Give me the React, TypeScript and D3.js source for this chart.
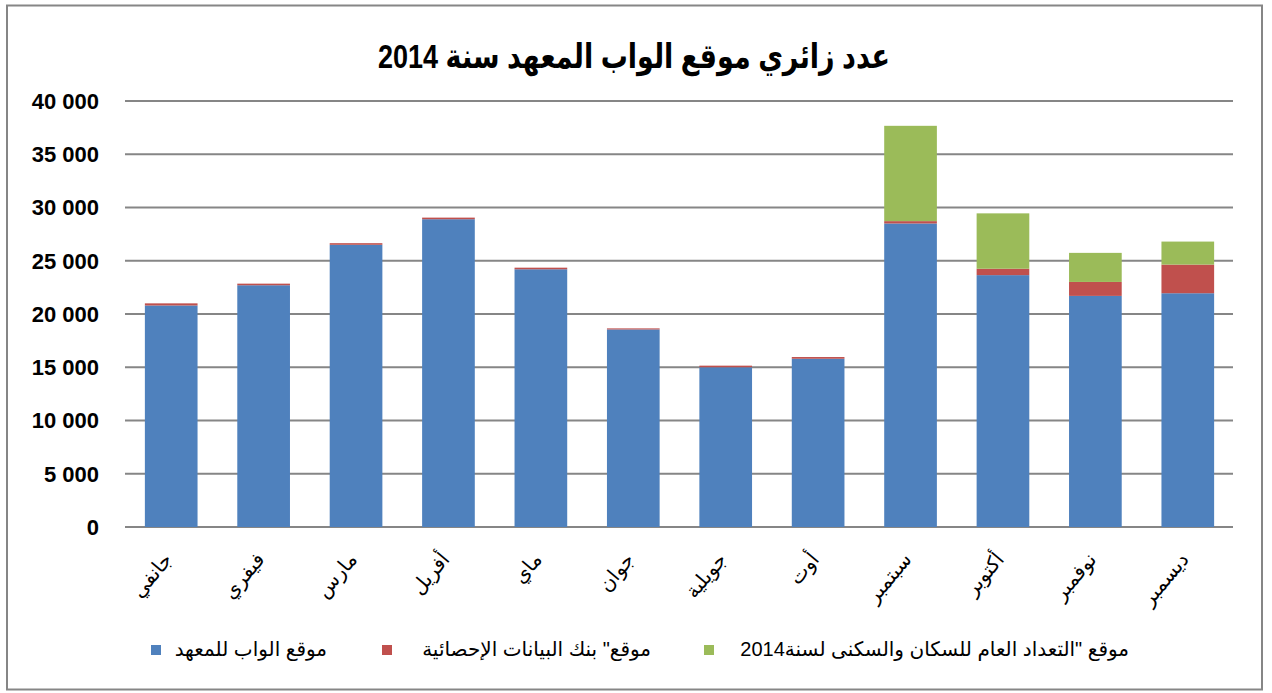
import React from "react";
import * as d3 from "d3";

const months = ["جانفي", "فيفري", "مارس", "أفريل", "ماي", "جوان", "جويلية", "أوت", "سبتمبر", "أكتوبر", "نوفمبر", "ديسمبر"];
const webSite = [20800, 22700, 26500, 28900, 24200, 18550, 15000, 15800, 28500, 23650, 21700, 21950];
const statBank = [200, 150, 150, 150, 150, 100, 150, 160, 220, 600, 1310, 2690];
const census = [0, 0, 0, 0, 0, 0, 0, 0, 8950, 5200, 2730, 2160];
const yTicks = [0, 5000, 10000, 15000, 20000, 25000, 30000, 35000, 40000];
const yTickLabels = ["0", "5 000", "10 000", "15 000", "20 000", "25 000", "30 000", "35 000", "40 000"];
const seriesNames = ["موقع الواب للمعهد", "موقع\" بنك البيانات الإحصائية", "موقع \"التعداد العام للسكان والسكنى لسنة2014"];
const colors = ["#4F81BD", "#C0504D", "#9BBB59"];
const title = "عدد زائري موقع الواب المعهد سنة 2014";

export default function App() {
  const W = 1272, H = 693;
  const x = d3.scaleBand<string>().domain(months).range([125, 1234]).paddingInner(0.43).paddingOuter(0.215);
  const y = d3.scaleLinear().domain([0, 40000]).range([527, 101]);
  const rows = months.map((m, i) => ({ m, s0: webSite[i], s1: statBank[i], s2: census[i] }));
  const stack = d3.stack<any>().keys(["s0", "s1", "s2"])(rows);
  const sans = "'Liberation Sans', Arial, 'DejaVu Sans', sans-serif";
  const serif = "'Liberation Serif', 'Times New Roman', 'DejaVu Sans', serif";
  const legendPos = [
    { sx: 151, tx: 327 },
    { sx: 382, tx: 651 },
    { sx: 704, tx: 1129 },
  ];
  return (
    <svg width={W} height={H} style={{ position: "absolute", left: 0, top: 0 }}>
      <rect x={0} y={0} width={W} height={H} fill="#fff" />
      <rect x={7} y={5.5} width={1255} height={684} fill="#fff" stroke="#868686" strokeWidth={2} />
      <text x={634} y={68} textAnchor="middle" fontFamily={sans} fontWeight="bold" fontSize={34} textLength={512} lengthAdjust="spacingAndGlyphs" fill="#000">{title}</text>
      {yTicks.map((t, i) => (
        <g key={t}>
          <line x1={125} x2={1233} y1={y(t)} y2={y(t)} stroke="#868686" strokeWidth={2} />
          <text x={99} y={y(t)} dy="0.36em" textAnchor="end" fontFamily={sans} fontWeight="bold" fontSize={22} fill="#000">{yTickLabels[i]}</text>
        </g>
      ))}
      {stack.map((layer, li) => (
        <g key={li} fill={colors[li]}>
          {layer.map((d, i) => {
            const h = y(d[0]) - y(d[1]);
            if (h <= 0) return null;
            return <rect key={i} x={x(months[i])} width={x.bandwidth()} y={y(d[1])} height={h} />;
          })}
        </g>
      ))}
      {months.map((m) => {
        const cx = (x(m) as number) + x.bandwidth() / 2;
        return (
          <text key={m} transform={`translate(${cx + 2},${560}) rotate(-50)`} textAnchor="end" fontFamily={serif} fontSize={20} fill="#000">{m}</text>
        );
      })}
      {seriesNames.map((n, i) => (
        <g key={i}>
          <rect x={legendPos[i].sx} y={645} width={10} height={10} fill={colors[i]} />
          <text x={legendPos[i].tx} y={656} textAnchor="end" fontFamily={sans} fontSize={20} fill="#000">{n}</text>
        </g>
      ))}
    </svg>
  );
}
